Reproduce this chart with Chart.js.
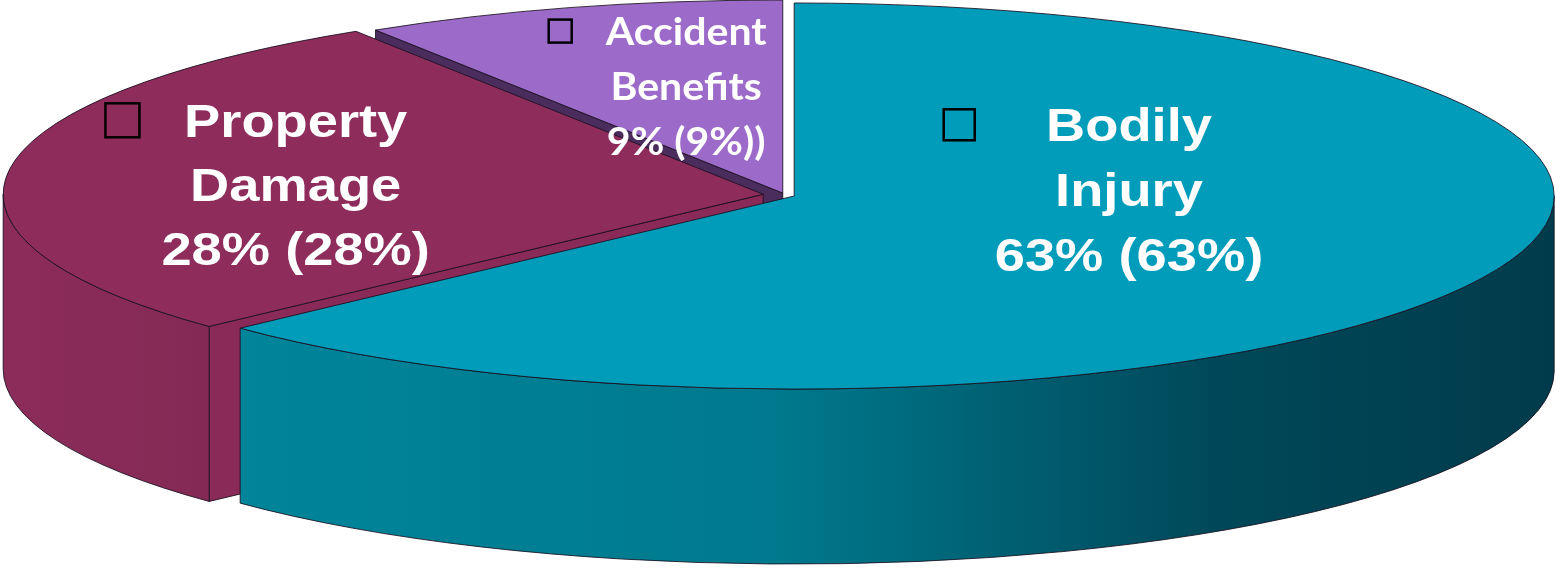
<!DOCTYPE html>
<html><head><meta charset="utf-8">
<script src="https://cdn.jsdelivr.net/npm/chart.js@4/dist/chart.umd.min.js"></script>
<style>html,body{margin:0;padding:0;background:#fff;overflow:hidden}canvas{display:block}</style>
</head><body>
<canvas id="c" width="1556" height="570"></canvas>
<script>
// ---- data ----
const categories = ['Bodily Injury', 'Property Damage', 'Accident Benefits'];
const values = [63, 28, 9];
const labelLines = [
  ['Bodily', 'Injury', '63% (63%)'],
  ['Property', 'Damage', '28% (28%)'],
  ['Accident', 'Benefits', '9% (9%))']
];

// ---- style ----
const topColors = ['#009cba', '#8e2d5c', '#9c6ac8'];
const faceColors = ['#00586a', '#8a2a58', '#4a2d5c'];
const wallStops = [
  [[0, '#008aa1'], [0.5, '#00798d'], [0.78, '#004859'], [1, '#003b4b']],
  [[0, '#8c2c5a'], [0.5, '#6e2248'], [1, '#501934']],
  [[0, '#6a4a8a'], [1, '#3a2050']]
];
const explode = [10, 22, 8];
const TILT = 0.254, CENTER_Y = 195, DEPTH = 175;
const EDGE = 'rgba(25,15,30,0.85)';
const labelStyle = [
  {f: 0.48, dx: 0, dy: -43, size: 46, family: '"Liberation Sans", Arial, sans-serif', cap: 0.716, sx: 1.18, lh: 65, box: 31, gap: 20},
  {f: 0.62, dx: 0, dy: 5, size: 46, family: '"Liberation Sans", Arial, sans-serif', cap: 0.716, sx: 1.18, lh: 64, box: 34, gap: 22},
  {f: 0.55, dx: 20, dy: -5, size: 38, family: 'Lato, "Open Sans", sans-serif', cap: 0.72, sx: 1.08, lh: 55, box: 23, gap: 34}
];

function geometry(chart) {
  const meta = chart.getDatasetMeta(0);
  return meta.data.map((el, i) => {
    const mid = (el.startAngle + el.endAngle) / 2;
    const e = explode[i];
    return {
      i, el, mid,
      ex: Math.cos(mid) * e, ey: Math.sin(mid) * e,
      cx: el.x + Math.cos(mid) * e,
      cy: CENTER_Y + Math.sin(mid) * e * TILT,
      r: el.outerRadius, ry: el.outerRadius * TILT,
      a0: el.startAngle, a1: el.endAngle, baseX: el.x, baseY: el.y
    };
  });
}

function wallGradient(ctx, g, i) {
  const grad = ctx.createLinearGradient(g.baseX - g.r - 25, 0, g.baseX + g.r + 15, 0);
  wallStops[i].forEach(([o, c]) => grad.addColorStop(o, c));
  return grad;
}

function drawSides(ctx, g) {
  const D = DEPTH;
  ctx.lineWidth = 1;
  ctx.strokeStyle = EDGE;
  // radial cut faces
  [[g.a0, a => a - Math.PI / 2], [g.a1, a => a + Math.PI / 2]].forEach(([a, nf]) => {
    const n = nf(a);
    if (Math.sin(n) > 0.01) {
      const rx = g.cx + Math.cos(a) * g.r, rY = g.cy + Math.sin(a) * g.ry;
      ctx.beginPath();
      ctx.moveTo(g.cx, g.cy);
      ctx.lineTo(rx, rY);
      ctx.lineTo(rx, rY + D);
      ctx.lineTo(g.cx, g.cy + D);
      ctx.closePath();
      ctx.fillStyle = faceColors[g.i];
      ctx.fill();
      ctx.stroke();
    }
  });
  // outer wall (front half only)
  [-2 * Math.PI, 0, 2 * Math.PI].forEach(shift => {
    const b0 = Math.max(g.a0, shift), b1 = Math.min(g.a1, shift + Math.PI);
    if (b1 - b0 > 0.001) {
      ctx.beginPath();
      ctx.ellipse(g.cx, g.cy, g.r, g.ry, 0, b0, b1, false);
      ctx.lineTo(g.cx + Math.cos(b1) * g.r, g.cy + Math.sin(b1) * g.ry + D);
      ctx.ellipse(g.cx, g.cy + D, g.r, g.ry, 0, b1, b0, true);
      ctx.closePath();
      ctx.fillStyle = wallGradient(ctx, g, g.i);
      ctx.fill();
      ctx.stroke();
    }
  });
}

function drawLabel(ctx, g) {
  const i = g.i, L = labelStyle[i];
  const ax = g.cx + Math.cos(g.mid) * g.r * L.f + L.dx;
  const ay = g.cy + Math.sin(g.mid) * g.ry * L.f + L.dy;
  const lines = labelLines[i];
  ctx.save();
  ctx.font = 'bold ' + L.size + 'px ' + L.family;
  ctx.translate(ax, 0);
  ctx.scale(L.sx, 1);
  ctx.fillStyle = '#ffffff';
  ctx.textAlign = 'center';
  ctx.textBaseline = 'alphabetic';
  const capH = L.cap * L.size;
  let maxW = 0;
  lines.forEach((t, j) => {
    ctx.fillText(t, 0, ay + (j - 1) * L.lh + capH / 2);
    maxW = Math.max(maxW, ctx.measureText(t).width);
  });
  ctx.restore();
  const bx = ax - maxW * L.sx / 2 - L.gap - L.box;
  const by = ay - L.lh - L.box / 2;
  ctx.fillStyle = topColors[i];
  ctx.fillRect(bx, by, L.box, L.box);
  ctx.lineWidth = 2.5;
  ctx.strokeStyle = '#000';
  ctx.strokeRect(bx, by, L.box, L.box);
}

const pie3d = {
  id: 'pie3d',
  beforeDatasetsDraw(chart) {
    const ctx = chart.ctx;
    const geo = geometry(chart);
    // sides, back to front
    geo.slice().sort((a, b) => Math.sin(a.mid) - Math.sin(b.mid)).forEach(g => drawSides(ctx, g));
    // tops drawn by the library's arc elements, tilted and exploded
    geo.forEach(g => {
      ctx.save();
      ctx.translate(g.ex, CENTER_Y);
      ctx.scale(1, TILT);
      ctx.translate(0, g.ey - g.baseY);
      g.el.draw(ctx, chart.chartArea);
      ctx.restore();
    });
    // top outlines
    ctx.lineWidth = 1;
    ctx.strokeStyle = EDGE;
    geo.forEach(g => {
      ctx.beginPath();
      ctx.moveTo(g.cx, g.cy);
      ctx.lineTo(g.cx + Math.cos(g.a0) * g.r, g.cy + Math.sin(g.a0) * g.ry);
      ctx.ellipse(g.cx, g.cy, g.r, g.ry, 0, g.a0, g.a1, false);
      ctx.closePath();
      ctx.stroke();
    });
    chart.$geo = geo;
    return false;
  },
  afterDraw(chart) {
    const ctx = chart.ctx;
    (chart.$geo || geometry(chart)).forEach(g => drawLabel(ctx, g));
  }
};

new Chart(document.getElementById('c'), {
  type: 'pie',
  data: {
    labels: categories,
    datasets: [{ data: values, backgroundColor: topColors, borderWidth: 0 }]
  },
  options: {
    responsive: false,
    animation: false,
    events: [],
    rotation: 0,
    radius: 760,
    layout: { padding: { left: 14 } },
    plugins: { legend: { display: false }, tooltip: { enabled: false } }
  },
  plugins: [pie3d]
});
</script>
</body></html>
